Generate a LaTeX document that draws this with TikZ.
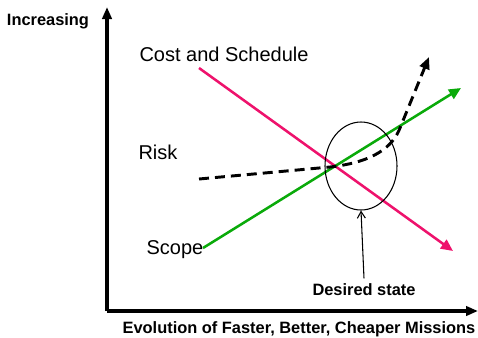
\documentclass[tikz,border=0pt]{standalone}
\usepackage{fontspec}
\setmainfont{Liberation Sans}
\usepackage{tikz}
\usetikzlibrary{arrows.meta, positioning, shapes.geometric}

\definecolor{costpink}{RGB}{238,18,108}
\definecolor{scopegreen}{RGB}{10,170,10}

\tikzset{
    axisline/.style={line width=2.3pt, -{Triangle[length=9pt, width=7pt]}},
    trendline/.style={line width=1.9pt, -{Triangle[length=9pt, width=8pt]}},
    biglabel/.style={font=\fontsize{15}{18}\selectfont, inner sep=0pt},
    smalllabel/.style={font=\fontsize{12.3}{14}\selectfont\bfseries, inner sep=0pt}
}

\begin{document}
\begin{tikzpicture}[x=0.75pt, y=-0.75pt]
        \useasboundingbox (0,0) rectangle (478,337);

        % axes
        \coordinate (origin) at (107,311);
        \coordinate (ytop) at (107,7);
        \coordinate (xend) at (478,311);
        \draw[axisline] (origin) -- (ytop);
        \draw[axisline] (origin) -- (xend);
        \node[smalllabel] (ylabel) at (48,21) {Increasing};
        \node[smalllabel] (xlabel) at (299,329) {Evolution of Faster, Better, Cheaper Missions};

        % labels
        \node[biglabel] (cost) at (224,54) {Cost and Schedule};
        \node[biglabel] (risk) at (158,152) {Risk};
        \node[biglabel] (scope) at (175,250) {Scope};

        % trends
        \coordinate (costA) at (199,68);
        \coordinate (costB) at (453,251);
        \coordinate (scopeA) at (203,248);
        \coordinate (scopeB) at (461,88);
        \coordinate (riskA) at (199,179);
        \coordinate (riskB) at (330,167);
        \coordinate (riskC) at (400,128);
        \coordinate (riskD) at (429,57);
        \draw[trendline, costpink] (costA) -- (costB);
        \draw[trendline, scopegreen] (scopeA) -- (scopeB);
        \draw[line width=2.2pt, dash pattern=on 7.5pt off 4.5pt, -{Triangle[length=9pt, width=7.5pt]}]
            (riskA) -- (riskB) .. controls (375,162) and (393,146) .. (riskC) -- (riskD);

        % desired state
        \node[draw, ellipse, line width=0.8pt, minimum width=54pt, minimum height=66pt, inner sep=0pt] (goal) at (361,166) {};
        \node[smalllabel] (desired) at (364,290) {Desired state};
        \draw[line width=0.8pt, -{Straight Barb[length=5pt, width=6pt]}] ([yshift=4pt]desired.north) -- (goal.south);
    \end{tikzpicture}
\end{document}
